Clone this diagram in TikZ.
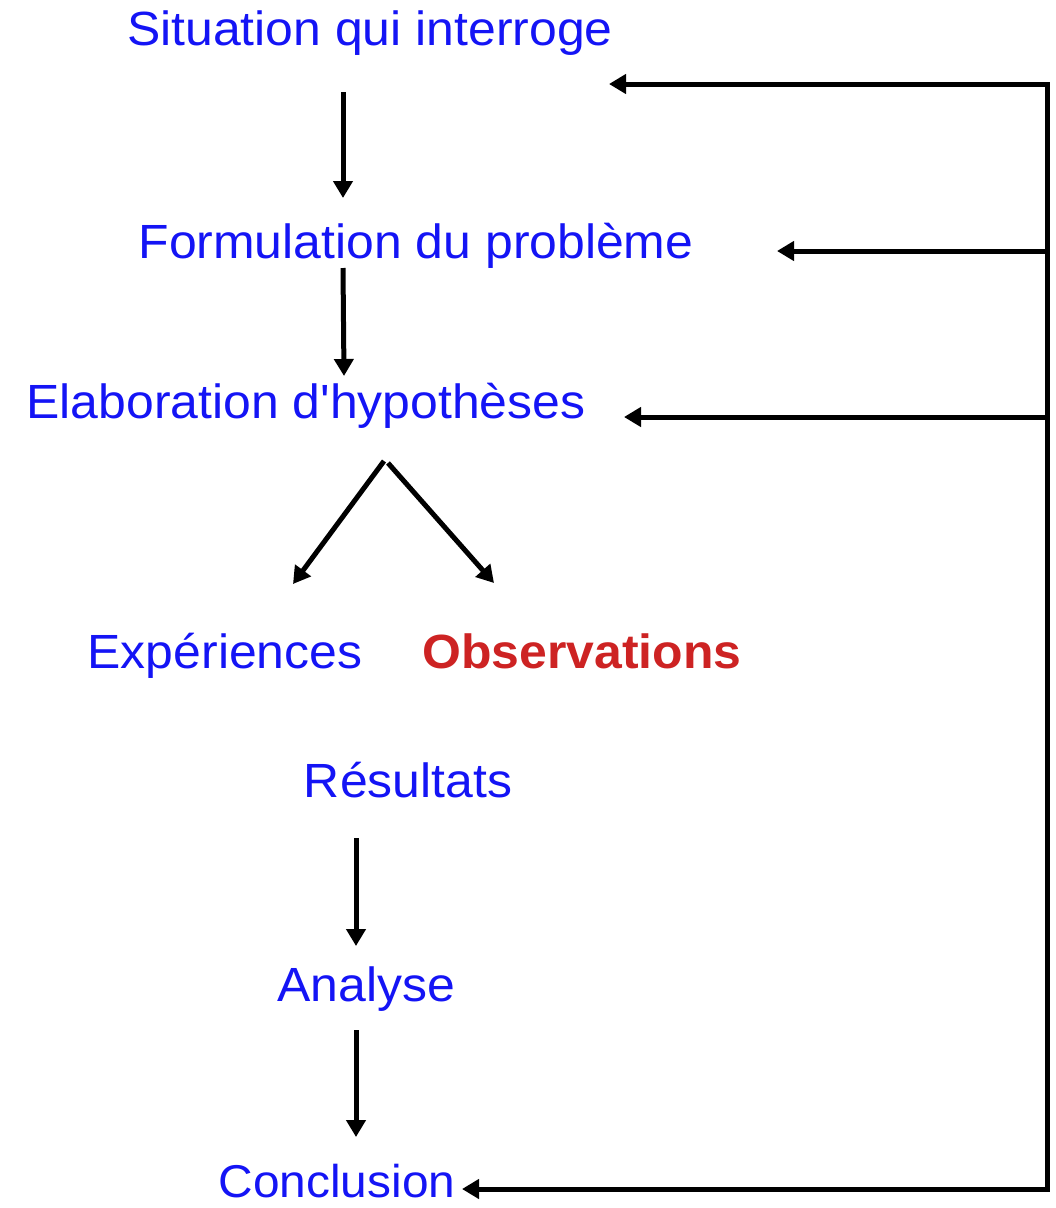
\documentclass[tikz,border=0pt]{standalone}
\usepackage{fontspec}
\setmainfont{Liberation Sans}[Ligatures=TeXOff,FakeStretch=1.04]
\usetikzlibrary{arrows.meta}
\definecolor{tblue}{RGB}{20,20,245}
\definecolor{tred}{RGB}{205,35,35}
\begin{document}
\begin{tikzpicture}[x=1pt,y=-1pt,
  lbl/.style={text=tblue,font=\fontsize{48}{54}\selectfont,inner sep=0pt,anchor=base},
  obs/.style={text=tred,font=\fontsize{48}{54}\selectfont\bfseries,inner sep=0pt,anchor=base},
  arr/.style={line width=5pt,-{Triangle[length=17pt,width=19pt]}},
  ln/.style={line width=5pt}]
\useasboundingbox (0,0) rectangle (1056,1208);
\node[lbl] (sit) at (370,45) {Situation qui interroge};
\node[lbl] (form) at (416,258) {Formulation du problème};
\node[lbl] (elab) at (306,418) {Elaboration d'hypothèses};
\node[lbl] (exp) at (225,668) {Expériences};
\node[obs] (obs) at (582,668) {Observations};
\node[lbl] (res) at (408,797) {Résultats};
\node[lbl] (ana) at (366,1001) {Analyse};
\node[lbl,font=\fontsize{46}{52}\selectfont] (conc) at (337,1197) {Conclusion};
\coordinate (a1) at (343,92);  \coordinate (a2) at (343,198);
\coordinate (b1) at (343,268); \coordinate (b2) at (344,376);
\coordinate (c0) at (384,461); \coordinate (c1) at (293,584);
\coordinate (d0) at (388,463); \coordinate (d1) at (494,583);
\coordinate (e1) at (356,838); \coordinate (e2) at (356,946);
\coordinate (f1) at (356,1030); \coordinate (f2) at (356,1137);
\draw[arr] (a1) -- (a2);
\draw[arr] (b1) -- (b2);
\draw[arr] (c0) -- (c1);
\draw[arr] (d0) -- (d1);
\draw[arr] (e1) -- (e2);
\draw[arr] (f1) -- (f2);
\coordinate (rt) at (1047,84);
\coordinate (rb) at (1047,1189);
\coordinate (r2) at (1047,251);
\coordinate (r3) at (1047,417);
\coordinate (t1) at (609,84);
\coordinate (t2) at (777,251);
\coordinate (t3) at (624,417);
\coordinate (t4) at (462,1189);
\draw[ln,line join=miter] ([xshift=10pt]t1) -- (rt) -- (rb) -- ([xshift=10pt]t4);
\draw[arr] (rt) -- (t1);
\draw[arr] (r2) -- (t2);
\draw[arr] (r3) -- (t3);
\draw[arr] (rb) -- (t4);
\end{tikzpicture}
\end{document}
